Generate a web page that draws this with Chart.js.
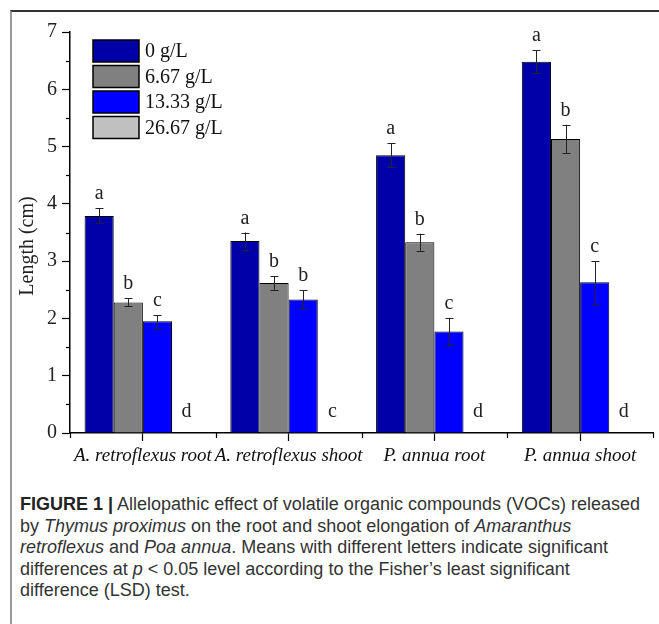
<!DOCTYPE html>
<html>
<head>
<meta charset="utf-8">
<script src="https://cdn.jsdelivr.net/npm/chart.js@4.4.1/dist/chart.umd.min.js"></script>
<style>
  body { margin: 0; background: #fff; }
  #page { position: relative; width: 659px; height: 624px; overflow: hidden; }
  #frame { position: absolute; left: 10px; top: 10px; right: -4px; bottom: -4px;
           border-top: 2px solid #333; border-left: 2px solid #999; }
  #chartBox { position: absolute; left: 0; top: 0; width: 659px; height: 475px; }
  #caption { position: absolute; left: 20px; top: 494px; width: 636px;
             font-family: 'Liberation Sans', Arial, sans-serif; font-size: 18px;
             line-height: 21.5px; color: #333; white-space: nowrap; }
  #caption b { color: #222; }
</style>
</head>
<body>
<div id="page">
  <div id="frame"></div>
  <div id="chartBox"><canvas id="chart" width="659" height="475"></canvas></div>
  <div id="caption">
    <b>FIGURE 1 |</b> Allelopathic effect of volatile organic compounds (VOCs) released<br>
    by <i>Thymus proximus</i> on the root and shoot elongation of <i>Amaranthus</i><br>
    <i>retroflexus</i> and <i>Poa annua</i>. Means with different letters indicate significant<br>
    differences at <i>p</i> &lt; 0.05 level according to the Fisher’s least significant<br>
    difference (LSD) test.
  </div>
</div>
<script>
// categories and concentrations
const categories = ['A. retroflexus root', 'A. retroflexus shoot', 'P. annua root', 'P. annua shoot'];
const concLabels = ['0 g/L', '6.67 g/L', '13.33 g/L', '26.67 g/L'];

// mean length (cm)
const len0    = [3.79, 3.35, 4.85, 6.48];
const len667  = [2.28, 2.62, 3.33, 5.13];
const len1333 = [1.95, 2.33, 1.77, 2.63];
const len2667 = [0, 0, 0, 0];

// error (cm)
const err0    = [0.13, 0.15, 0.21, 0.20];
const err667  = [0.07, 0.12, 0.15, 0.25];
const err1333 = [0.11, 0.16, 0.24, 0.37];
const err2667 = [0, 0, 0, 0];

// LSD letters
const let0    = ['a', 'a', 'a', 'a'];
const let667  = ['b', 'b', 'b', 'b'];
const let1333 = ['c', 'b', 'c', 'c'];
const let2667 = ['d', 'c', 'd', 'd'];

const yTicks = [0, 1, 2, 3, 4, 5, 6, 7];

const colors = ['#0000A8', '#808080', '#0000FF', '#C0C0C0'];
const allLen = [len0, len667, len1333, len2667];
const allErr = [err0, err667, err1333, err2667];
const allLet = [let0, let667, let1333, let2667];

Chart.defaults.font.family = "'Liberation Serif', 'Times New Roman', serif";
Chart.defaults.color = '#222';

function line(ctx, x1, y1, x2, y2) {
  ctx.beginPath();
  ctx.moveTo(x1, y1);
  ctx.lineTo(x2, y2);
  ctx.stroke();
}

// error bars, letters, minor ticks, legend and y title
const extras = {
  id: 'extras',
  afterDatasetsDraw(chart) {
    const ctx = chart.ctx;
    const ys = chart.scales.y, xs = chart.scales.x;
    const area = chart.chartArea;
    ctx.save();
    ctx.strokeStyle = '#000';
    ctx.lineWidth = 1.2;

    // minor ticks
    for (let v = 0.5; v < yTicks[yTicks.length - 1]; v += 1) {
      const py = Math.round(ys.getPixelForValue(v)) + 0.5;
      line(ctx, area.left - 4, py, area.left, py);
    }
    for (let i = 0; i <= categories.length; i++) {
      const px = Math.round(xs.getPixelForValue(i - 0.5)) + 0.5;
      line(ctx, px, area.bottom, px, area.bottom + 5);
    }

    // error bars + letters
    ctx.font = "20px 'Liberation Serif', serif";
    ctx.fillStyle = '#222';
    ctx.textAlign = 'center';
    ctx.textBaseline = 'alphabetic';
    allErr.forEach((errs, di) => {
      const meta = chart.getDatasetMeta(di);
      meta.data.forEach((bar, j) => {
        const v = allLen[di][j], e = errs[j];
        const top = ys.getPixelForValue(v + e);
        if (e > 0) {
          const bot = ys.getPixelForValue(v - e);
          const x = Math.round(bar.x) + 0.5;
          ctx.strokeStyle = '#222';
          ctx.lineWidth = 1;
          line(ctx, x, top, x, bot);
          line(ctx, x - 4, Math.round(top) + 0.5, x + 4, Math.round(top) + 0.5);
          line(ctx, x - 4, Math.round(bot) + 0.5, x + 4, Math.round(bot) + 0.5);
        }
        ctx.fillText(allLet[di][j], bar.x, top - (e > 0 ? 9 : 16));
      });
    });

    // legend
    ctx.textAlign = 'left';
    ctx.textBaseline = 'middle';
    chart.data.datasets.forEach((ds, i) => {
      const bx = 93, by = 40 + i * 25.5;
      ctx.fillStyle = ds.backgroundColor;
      ctx.fillRect(bx, by, 46, 22);
      ctx.strokeStyle = '#000';
      ctx.lineWidth = 1.5;
      ctx.strokeRect(bx, by, 46, 22);
      ctx.fillStyle = '#111';
      ctx.fillText(ds.label, bx + 52, by + 12);
    });

    // y axis title
    ctx.translate(28, 246);
    ctx.rotate(-Math.PI / 2);
    ctx.textAlign = 'center';
    ctx.fillStyle = '#222';
    ctx.fillText('Length (cm)', 0, 0);
    ctx.restore();
  }
};

new Chart(document.getElementById('chart'), {
  type: 'bar',
  data: {
    labels: categories,
    datasets: allLen.map((d, i) => ({
      label: concLabels[i],
      data: d,
      backgroundColor: colors[i],
      borderColor: '#000',
      borderWidth: 1,
      barPercentage: 1,
      categoryPercentage: 0.8
    }))
  },
  options: {
    responsive: false,
    animation: false,
    layout: { padding: { left: 0, right: 6, top: 32, bottom: 0 } },
    plugins: { legend: { display: false }, tooltip: { enabled: false } },
    scales: {
      x: {
        grid: { offset: false, drawOnChartArea: false, tickLength: 8, tickColor: '#000', tickWidth: 1.2 },
        border: { color: '#000', width: 1.5 },
        ticks: { font: { size: 19, style: 'italic' }, color: '#111', maxRotation: 0, autoSkip: false, padding: 4 },
        afterFit(s) { s.height = 42; }
      },
      y: {
        min: 0,
        max: 7,
        afterBuildTicks(s) { s.ticks = yTicks.map(v => ({ value: v })); },
        grid: { drawOnChartArea: false, tickLength: 8, tickColor: '#000', tickWidth: 1.2 },
        border: { color: '#000', width: 1.5 },
        ticks: { font: { size: 20 }, color: '#222', padding: 5 },
        afterFit(s) { s.width = 70; }
      }
    }
  },
  plugins: [extras]
});
</script>
</body>
</html>
